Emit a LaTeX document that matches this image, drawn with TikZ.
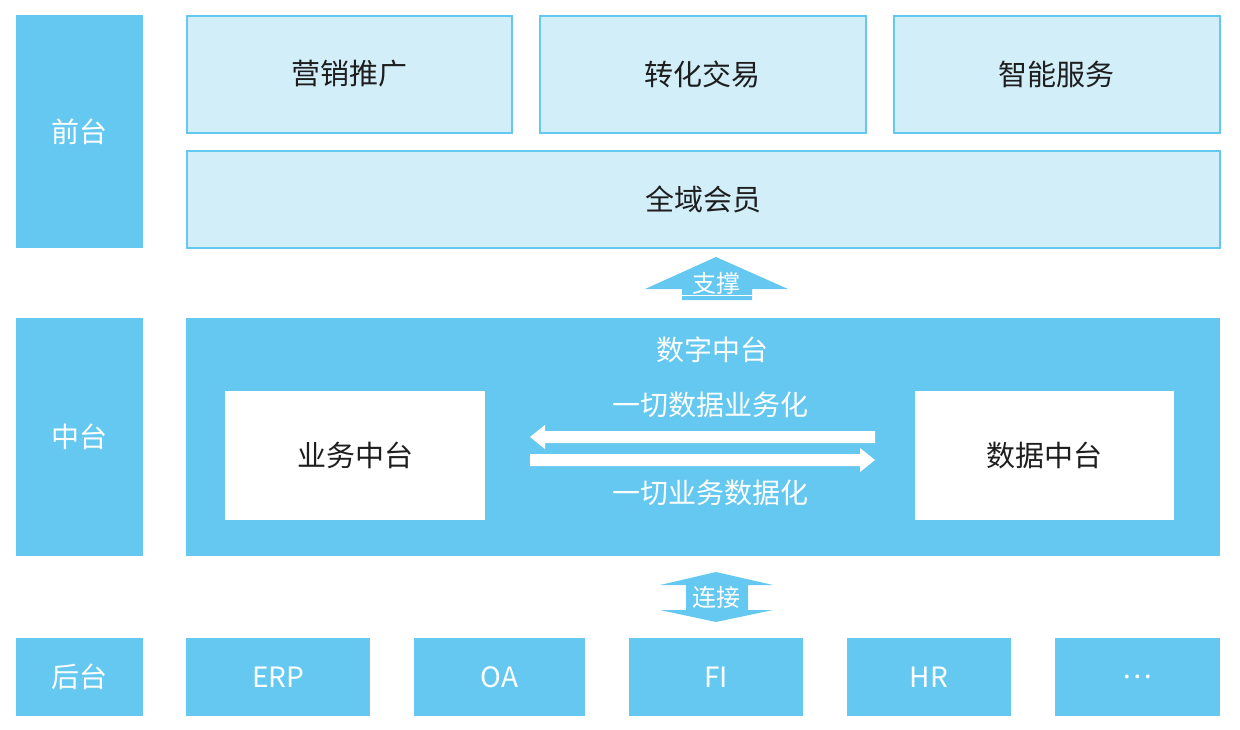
\documentclass[tikz,border=0pt]{standalone}
\usepackage{fontspec}
\setmainfont{Noto Sans CJK SC}
\definecolor{mblue}{RGB}{100,200,240}
\definecolor{lblue}{RGB}{210,238,249}
\definecolor{txt}{RGB}{30,30,30}
\begin{document}
\begin{tikzpicture}[x=1pt,y=-1pt,
  blk/.style={fill=mblue,draw=none,text=white,font=\fontsize{28}{30}\selectfont},
  lbox/.style={fill=lblue,draw=mblue,line width=2pt,text=txt,font=\fontsize{29}{32}\selectfont},
  wbox/.style={fill=white,draw=none,text=txt,font=\fontsize{29}{32}\selectfont},
  wtxt/.style={text=white,font=\fontsize{28}{30}\selectfont}]
\useasboundingbox (0,0) rectangle (1240,729);
\newcommand\bx[6]{\node[#1,minimum width=#4-#2,minimum height=#5-#3,inner sep=0pt] (#6) at ({(#2+#4)/2},{(#3+#5)/2}) {};}
% front
\node[blk,minimum width=127,minimum height=233,inner sep=0] (qt) at (79.5,131.5) {前台};
\node[lbox,minimum width=325,minimum height=117,inner sep=0] (yx) at (349,74) {营销推广};
\node[lbox,minimum width=326,minimum height=117,inner sep=0] (zh) at (702.5,74) {转化交易};
\node[lbox,minimum width=326,minimum height=117,inner sep=0] (zn) at (1056.5,74) {智能服务};
\node[lbox,minimum width=1033,minimum height=97,inner sep=0] (qy) at (703,199) {全域会员};
% middle
\node[blk,minimum width=127,minimum height=238,inner sep=0] (zt) at (79.5,437) {中台};
\node[fill=mblue,minimum width=1034,minimum height=238,inner sep=0] (sz) at (703,437) {};
\node[wtxt] (szt) at (712,350) {数字中台};
\node[wbox,minimum width=260,minimum height=129,inner sep=0] (yw) at (355,455.5) {业务中台};
\node[wbox,minimum width=259,minimum height=129,inner sep=0] (sj) at (1044.5,455.5) {数据中台};
\node[wtxt] (t1) at (710,405) {一切数据业务化};
\node[wtxt] (t2) at (710,493) {一切业务数据化};
\coordinate (a1) at (875,437); \coordinate (a2) at (530,437);
\coordinate (b1) at (530,460); \coordinate (b2) at (875,460);
\fill[white] (875,431) -- (545,431) -- (545,425) -- (530,437) -- (545,449) -- (545,443) -- (875,443) -- cycle;
\fill[white] (530,454) -- (860,454) -- (860,448) -- (875,460) -- (860,472) -- (860,466) -- (530,466) -- cycle;
% support arrow
\fill[mblue] (682,300) -- (682,289) -- (645,289) -- (716,257) -- (788,289) -- (752,289) -- (752,300) -- cycle;
\draw[white,line width=1pt] (682,295) -- (752,295);
\node[wtxt,font=\fontsize{24}{26}\selectfont] (zc) at (716,283) {支撑};
% connect arrow
\fill[mblue] (716,572) -- (773,585) -- (748,585) -- (748,610) -- (773,610) -- (716,622) -- (660,610) -- (686,610) -- (686,585) -- (660,585) -- cycle;
\node[wtxt,font=\fontsize{24}{26}\selectfont] (lj) at (716,597) {连接};
% back
\node[blk,minimum width=127,minimum height=78,inner sep=0] (ht) at (79.5,677) {后台};
\node[blk,minimum width=184,minimum height=78,inner sep=0] (erp) at (278,677) {ERP};
\node[blk,minimum width=171,minimum height=78,inner sep=0] (oa) at (499.5,677) {OA};
\node[blk,minimum width=174,minimum height=78,inner sep=0] (fi) at (716,677) {FI};
\node[blk,minimum width=164,minimum height=78,inner sep=0] (hr) at (929,677) {HR};
\node[blk,minimum width=165,minimum height=78,inner sep=0] (et) at (1137.5,677) {…};
\end{tikzpicture}
\end{document}
